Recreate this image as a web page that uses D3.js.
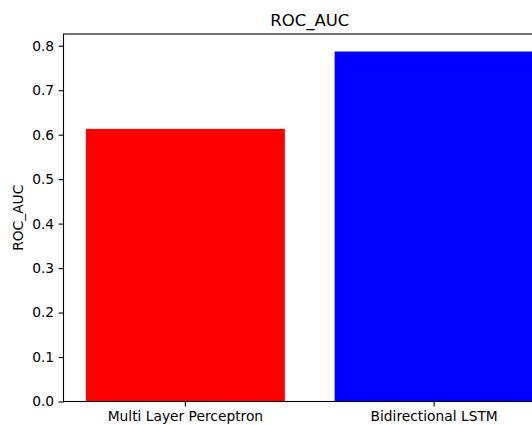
<!DOCTYPE html>
<html>
<head>
<meta charset="utf-8">
<script src="https://cdn.jsdelivr.net/npm/d3@7"></script>
<style>
  html, body { margin: 0; padding: 0; background: #fff; overflow: hidden; }
  svg { display: block; font-family: "DejaVu Sans", sans-serif; }
</style>
</head>
<body>
<svg id="chart"></svg>
<script>
// data
var models = ["Multi Layer Perceptron", "Bidirectional LSTM"];
var rocAuc = [0.613, 0.787];
var barColors = ["#ff0000", "#0000ff"];
var yTicks = [0, 0.1, 0.2, 0.3, 0.4, 0.5, 0.6, 0.7, 0.8];

var width = 532, height = 425;
var margin = { left: 63.5, top: 34, right: 556, bottom: 401.5 };

var svg = d3.select("#chart")
    .attr("width", width)
    .attr("height", height);

var yMax = d3.max(rocAuc) * 1.05;

var x = d3.scaleBand()
    .domain(models)
    .range([margin.left, margin.right])
    .paddingInner(0.2)
    .paddingOuter(0.09);

var y = d3.scaleLinear()
    .domain([0, yMax])
    .range([margin.bottom, margin.top]);

// bars
svg.selectAll(".bar")
    .data(models)
    .enter()
    .append("rect")
    .attr("class", "bar")
    .attr("x", function (d) { return x(d); })
    .attr("width", x.bandwidth())
    .attr("y", function (d, i) { return y(rocAuc[i]); })
    .attr("height", function (d, i) { return y(0) - y(rocAuc[i]); })
    .attr("fill", function (d, i) { return barColors[i]; });

// axes
var yAxis = svg.append("g")
    .attr("transform", "translate(" + margin.left + ",0)")
    .call(d3.axisLeft(y).tickValues(yTicks).tickFormat(d3.format(".1f"))
        .tickSize(4.9).tickPadding(4.5).tickSizeOuter(0));

var xAxis = svg.append("g")
    .attr("transform", "translate(0," + margin.bottom + ")")
    .call(d3.axisBottom(x).tickSize(4.9).tickPadding(4.5).tickSizeOuter(0));

[yAxis, xAxis].forEach(function (g) {
    g.select(".domain").remove();
    g.selectAll("line").attr("stroke", "#000").attr("stroke-width", 1.1);
    g.selectAll("text").attr("fill", "#000")
        .style("font-size", "13.8px")
        .style("font-family", "'DejaVu Sans', sans-serif");
});

// spines
svg.append("rect")
    .attr("x", margin.left)
    .attr("y", margin.top)
    .attr("width", margin.right - margin.left)
    .attr("height", margin.bottom - margin.top)
    .attr("fill", "none")
    .attr("stroke", "#000")
    .attr("stroke-width", 1.1);

// title
svg.append("text")
    .attr("x", (margin.left + margin.right) / 2)
    .attr("y", 25.5)
    .attr("text-anchor", "middle")
    .style("font-size", "16.5px")
    .text("ROC_AUC");

// y label
svg.append("text")
    .attr("transform", "translate(23," + ((margin.top + margin.bottom) / 2) + ") rotate(-90)")
    .attr("text-anchor", "middle")
    .style("font-size", "13.8px")
    .text("ROC_AUC");
</script>
</body>
</html>
